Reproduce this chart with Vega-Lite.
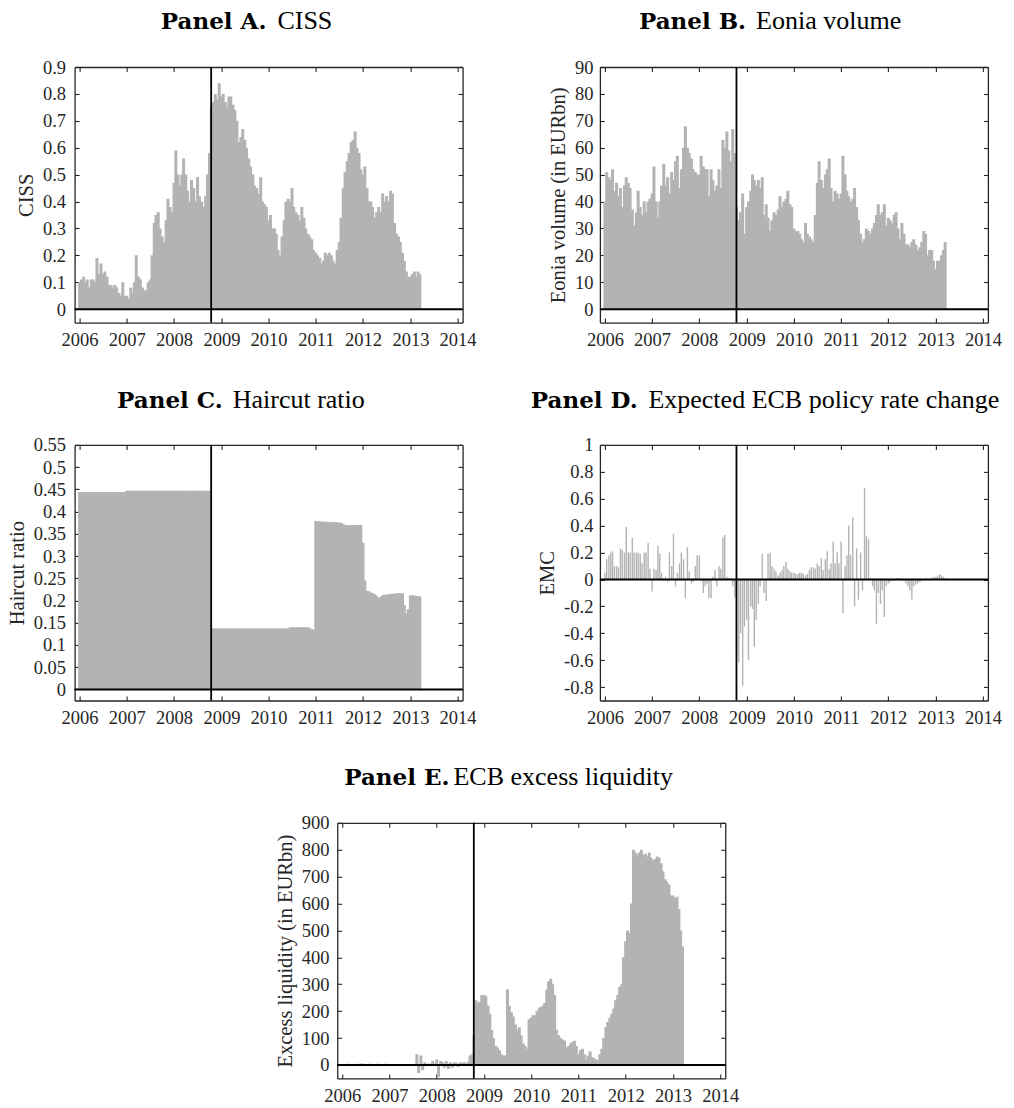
{
"$schema": "https://vega.github.io/schema/vega-lite/v6.json",
"background": "white",
"padding": {"left": 6.5, "top": 7, "right": 5, "bottom": 5},
"config": {
 "view": {"stroke": null},
 "axis": {"labelFont": "Liberation Serif", "labelFontSize": 18.5, "labelColor": "#262626", "titleFont": "Liberation Serif", "titleFontSize": 20.5, "titleFontWeight": "normal", "titleColor": "#262626", "domainColor": "#262626", "domainWidth": 1.3, "tickColor": "#262626", "tickWidth": 1.1, "tickSize": -4.5, "grid": false, "labelFlush": false, "labelOverlap": false, "labelBound": false, "titlePadding": 6}
},
"datasets": {"s": [
{"d":"2006-01-01","ci":0.10,"eo":40,"hc":0.444,"em":0.05,"el":3},
{"d":"2006-01-15","ci":0.11,"eo":51,"hc":0.444,"em":0.15,"el":2},
{"d":"2006-02-01","ci":0.12,"eo":49,"hc":0.444,"em":0.18,"el":3},
{"d":"2006-02-15","ci":0.10,"eo":48,"hc":0.444,"em":0.20,"el":4},
{"d":"2006-03-01","ci":0.11,"eo":52,"hc":0.444,"em":0.21,"el":3},
{"d":"2006-03-15","ci":0.08,"eo":44,"hc":0.444,"em":0.10,"el":2},
{"d":"2006-04-01","ci":0.11,"eo":47,"hc":0.444,"em":0.10,"el":3},
{"d":"2006-04-15","ci":0.11,"eo":42,"hc":0.444,"em":0.09,"el":2},
{"d":"2006-05-01","ci":0.10,"eo":45,"hc":0.444,"em":0.23,"el":4},
{"d":"2006-05-15","ci":0.19,"eo":38,"hc":0.444,"em":0.22,"el":3},
{"d":"2006-06-01","ci":0.13,"eo":46,"hc":0.444,"em":0.20,"el":5},
{"d":"2006-06-15","ci":0.17,"eo":49,"hc":0.444,"em":0.39,"el":4},
{"d":"2006-07-01","ci":0.13,"eo":47,"hc":0.444,"em":0.20,"el":3},
{"d":"2006-07-15","ci":0.14,"eo":45,"hc":0.444,"em":0.20,"el":2},
{"d":"2006-08-01","ci":0.12,"eo":37,"hc":0.444,"em":0.31,"el":4},
{"d":"2006-08-15","ci":0.09,"eo":31,"hc":0.444,"em":0.20,"el":3},
{"d":"2006-09-01","ci":0.09,"eo":36,"hc":0.444,"em":0.20,"el":2},
{"d":"2006-09-15","ci":0.08,"eo":44,"hc":0.444,"em":0.20,"el":3},
{"d":"2006-10-01","ci":0.09,"eo":38,"hc":0.444,"em":0.19,"el":4},
{"d":"2006-10-15","ci":0.08,"eo":35,"hc":0.444,"em":0.12,"el":3},
{"d":"2006-11-01","ci":0.06,"eo":40,"hc":0.444,"em":0.20,"el":2},
{"d":"2006-11-15","ci":0.05,"eo":36,"hc":0.444,"em":0.20,"el":3},
{"d":"2006-12-01","ci":0.10,"eo":40,"hc":0.444,"em":0.27,"el":4},
{"d":"2006-12-15","ci":0.05,"eo":41,"hc":0.444,"em":0.08,"el":3},
{"d":"2007-01-01","ci":0.05,"eo":43,"hc":0.447,"em":-0.09,"el":3},
{"d":"2007-01-15","ci":0.04,"eo":53,"hc":0.447,"em":0.08,"el":2},
{"d":"2007-02-01","ci":0.08,"eo":40,"hc":0.447,"em":0.07,"el":3},
{"d":"2007-02-15","ci":0.06,"eo":34,"hc":0.447,"em":0.25,"el":2},
{"d":"2007-03-01","ci":0.10,"eo":40,"hc":0.447,"em":0.19,"el":3},
{"d":"2007-03-15","ci":0.20,"eo":46,"hc":0.447,"em":0.05,"el":2},
{"d":"2007-04-01","ci":0.12,"eo":54,"hc":0.447,"em":-0.01,"el":3},
{"d":"2007-04-15","ci":0.11,"eo":46,"hc":0.447,"em":0.02,"el":2},
{"d":"2007-05-01","ci":0.08,"eo":49,"hc":0.447,"em":-0.02,"el":3},
{"d":"2007-05-15","ci":0.07,"eo":43,"hc":0.447,"em":0.20,"el":2},
{"d":"2007-06-01","ci":0.07,"eo":51,"hc":0.447,"em":0.10,"el":3},
{"d":"2007-06-15","ci":0.10,"eo":48,"hc":0.447,"em":0.34,"el":2},
{"d":"2007-07-01","ci":0.11,"eo":55,"hc":0.447,"em":-0.05,"el":3},
{"d":"2007-07-15","ci":0.20,"eo":57,"hc":0.447,"em":0.05,"el":4},
{"d":"2007-08-01","ci":0.32,"eo":45,"hc":0.447,"em":0.12,"el":40},
{"d":"2007-08-15","ci":0.35,"eo":52,"hc":0.447,"em":0.20,"el":-30},
{"d":"2007-09-01","ci":0.36,"eo":60,"hc":0.447,"em":0.15,"el":35},
{"d":"2007-09-15","ci":0.30,"eo":68,"hc":0.447,"em":-0.14,"el":-20},
{"d":"2007-10-01","ci":0.27,"eo":60,"hc":0.447,"em":0.24,"el":10},
{"d":"2007-10-15","ci":0.25,"eo":58,"hc":0.447,"em":0.06,"el":-5},
{"d":"2007-11-01","ci":0.33,"eo":56,"hc":0.447,"em":-0.03,"el":5},
{"d":"2007-11-15","ci":0.41,"eo":52,"hc":0.447,"em":-0.02,"el":3},
{"d":"2007-12-01","ci":0.38,"eo":51,"hc":0.447,"em":0.10,"el":15},
{"d":"2007-12-15","ci":0.36,"eo":50,"hc":0.447,"em":0.18,"el":5},
{"d":"2008-01-01","ci":0.47,"eo":50,"hc":0.447,"em":0.18,"el":20},
{"d":"2008-01-15","ci":0.59,"eo":57,"hc":0.447,"em":-0.01,"el":-45},
{"d":"2008-02-01","ci":0.50,"eo":53,"hc":0.447,"em":-0.10,"el":15},
{"d":"2008-02-15","ci":0.46,"eo":52,"hc":0.447,"em":-0.05,"el":10},
{"d":"2008-03-01","ci":0.50,"eo":52,"hc":0.447,"em":-0.03,"el":-10},
{"d":"2008-03-15","ci":0.56,"eo":42,"hc":0.447,"em":-0.14,"el":15},
{"d":"2008-04-01","ci":0.50,"eo":52,"hc":0.447,"em":-0.14,"el":-15},
{"d":"2008-04-15","ci":0.44,"eo":48,"hc":0.447,"em":0.02,"el":10},
{"d":"2008-05-01","ci":0.40,"eo":44,"hc":0.447,"em":0.07,"el":-10},
{"d":"2008-05-15","ci":0.48,"eo":46,"hc":0.447,"em":-0.05,"el":10},
{"d":"2008-06-01","ci":0.45,"eo":52,"hc":0.447,"em":0.10,"el":8},
{"d":"2008-06-15","ci":0.40,"eo":45,"hc":0.447,"em":0.08,"el":-8},
{"d":"2008-07-01","ci":0.49,"eo":63,"hc":0.447,"em":0.31,"el":10},
{"d":"2008-07-15","ci":0.42,"eo":60,"hc":0.447,"em":0.33,"el":8},
{"d":"2008-08-01","ci":0.40,"eo":66,"hc":0.447,"em":0.02,"el":10},
{"d":"2008-08-15","ci":0.38,"eo":59,"hc":0.447,"em":0.01,"el":5},
{"d":"2008-09-01","ci":0.42,"eo":55,"hc":0.447,"em":0.01,"el":12},
{"d":"2008-09-15","ci":0.50,"eo":67,"hc":0.447,"em":-0.05,"el":35},
{"d":"2008-10-01","ci":0.58,"eo":58,"hc":0.447,"em":-0.13,"el":40},
{"d":"2008-10-15","ci":0.75,"eo":38,"hc":0.137,"em":-0.55,"el":110},
{"d":"2008-11-01","ci":0.77,"eo":33,"hc":0.137,"em":-0.62,"el":240},
{"d":"2008-11-15","ci":0.80,"eo":36,"hc":0.137,"em":-0.40,"el":230},
{"d":"2008-12-01","ci":0.78,"eo":43,"hc":0.137,"em":-0.79,"el":235},
{"d":"2008-12-15","ci":0.84,"eo":28,"hc":0.137,"em":-0.35,"el":260},
{"d":"2009-01-01","ci":0.79,"eo":38,"hc":0.137,"em":-0.30,"el":260},
{"d":"2009-01-15","ci":0.80,"eo":40,"hc":0.137,"em":-0.60,"el":255},
{"d":"2009-02-01","ci":0.77,"eo":44,"hc":0.137,"em":-0.20,"el":220},
{"d":"2009-02-15","ci":0.75,"eo":50,"hc":0.137,"em":-0.22,"el":190},
{"d":"2009-03-01","ci":0.79,"eo":48,"hc":0.137,"em":-0.50,"el":130},
{"d":"2009-03-15","ci":0.79,"eo":46,"hc":0.137,"em":-0.30,"el":100},
{"d":"2009-04-01","ci":0.76,"eo":48,"hc":0.137,"em":-0.18,"el":70},
{"d":"2009-04-15","ci":0.74,"eo":45,"hc":0.137,"em":-0.05,"el":65},
{"d":"2009-05-01","ci":0.70,"eo":49,"hc":0.137,"em":0.19,"el":55},
{"d":"2009-05-15","ci":0.62,"eo":35,"hc":0.137,"em":-0.10,"el":40},
{"d":"2009-06-01","ci":0.64,"eo":39,"hc":0.137,"em":-0.16,"el":35},
{"d":"2009-06-15","ci":0.67,"eo":34,"hc":0.137,"em":0.19,"el":35},
{"d":"2009-07-01","ci":0.63,"eo":29,"hc":0.137,"em":0.20,"el":280},
{"d":"2009-07-15","ci":0.60,"eo":33,"hc":0.137,"em":0.10,"el":220},
{"d":"2009-08-01","ci":0.56,"eo":36,"hc":0.137,"em":0.08,"el":195},
{"d":"2009-08-15","ci":0.53,"eo":35,"hc":0.137,"em":0.06,"el":180},
{"d":"2009-09-01","ci":0.50,"eo":37,"hc":0.137,"em":0.03,"el":150},
{"d":"2009-09-15","ci":0.46,"eo":42,"hc":0.137,"em":0.05,"el":130},
{"d":"2009-10-01","ci":0.45,"eo":38,"hc":0.137,"em":0.07,"el":140},
{"d":"2009-10-15","ci":0.43,"eo":40,"hc":0.137,"em":0.10,"el":110},
{"d":"2009-11-01","ci":0.49,"eo":41,"hc":0.137,"em":0.13,"el":80},
{"d":"2009-11-15","ci":0.40,"eo":44,"hc":0.137,"em":0.08,"el":70},
{"d":"2009-12-01","ci":0.39,"eo":39,"hc":0.137,"em":0.06,"el":60},
{"d":"2009-12-15","ci":0.38,"eo":38,"hc":0.137,"em":0.05,"el":170},
{"d":"2010-01-01","ci":0.33,"eo":30,"hc":0.137,"em":0.05,"el":175},
{"d":"2010-01-15","ci":0.35,"eo":29,"hc":0.137,"em":0.04,"el":185},
{"d":"2010-02-01","ci":0.30,"eo":29,"hc":0.137,"em":0.04,"el":185},
{"d":"2010-02-15","ci":0.30,"eo":28,"hc":0.137,"em":0.05,"el":200},
{"d":"2010-03-01","ci":0.28,"eo":26,"hc":0.137,"em":0.05,"el":210},
{"d":"2010-03-15","ci":0.22,"eo":25,"hc":0.137,"em":0.04,"el":215},
{"d":"2010-04-01","ci":0.20,"eo":32,"hc":0.137,"em":0.03,"el":220},
{"d":"2010-04-15","ci":0.27,"eo":28,"hc":0.137,"em":0.04,"el":230},
{"d":"2010-05-01","ci":0.33,"eo":27,"hc":0.137,"em":0.07,"el":280},
{"d":"2010-05-15","ci":0.40,"eo":26,"hc":0.137,"em":0.09,"el":310},
{"d":"2010-06-01","ci":0.41,"eo":25,"hc":0.137,"em":0.09,"el":320},
{"d":"2010-06-15","ci":0.40,"eo":35,"hc":0.140,"em":0.08,"el":300},
{"d":"2010-07-01","ci":0.45,"eo":47,"hc":0.140,"em":0.12,"el":260},
{"d":"2010-07-15","ci":0.38,"eo":55,"hc":0.140,"em":0.10,"el":130},
{"d":"2010-08-01","ci":0.36,"eo":48,"hc":0.140,"em":0.16,"el":110},
{"d":"2010-08-15","ci":0.35,"eo":45,"hc":0.140,"em":0.07,"el":100},
{"d":"2010-09-01","ci":0.33,"eo":50,"hc":0.140,"em":0.15,"el":95},
{"d":"2010-09-15","ci":0.38,"eo":52,"hc":0.140,"em":0.21,"el":90},
{"d":"2010-10-01","ci":0.34,"eo":56,"hc":0.140,"em":0.08,"el":65},
{"d":"2010-10-15","ci":0.30,"eo":45,"hc":0.140,"em":0.12,"el":70},
{"d":"2010-11-01","ci":0.28,"eo":40,"hc":0.140,"em":0.28,"el":80},
{"d":"2010-11-15","ci":0.27,"eo":44,"hc":0.138,"em":0.12,"el":85},
{"d":"2010-12-01","ci":0.26,"eo":43,"hc":0.135,"em":0.20,"el":90},
{"d":"2010-12-15","ci":0.22,"eo":41,"hc":0.135,"em":0.12,"el":70},
{"d":"2011-01-01","ci":0.21,"eo":43,"hc":0.379,"em":0.28,"el":40},
{"d":"2011-01-15","ci":0.20,"eo":57,"hc":0.378,"em":-0.25,"el":55},
{"d":"2011-02-01","ci":0.19,"eo":50,"hc":0.378,"em":0.10,"el":60},
{"d":"2011-02-15","ci":0.17,"eo":44,"hc":0.377,"em":0.18,"el":40},
{"d":"2011-03-01","ci":0.18,"eo":42,"hc":0.377,"em":0.40,"el":20},
{"d":"2011-03-15","ci":0.21,"eo":40,"hc":0.377,"em":0.18,"el":35},
{"d":"2011-04-01","ci":0.20,"eo":41,"hc":0.377,"em":0.46,"el":50},
{"d":"2011-04-15","ci":0.21,"eo":45,"hc":0.376,"em":-0.20,"el":30},
{"d":"2011-05-01","ci":0.20,"eo":38,"hc":0.376,"em":0.23,"el":25},
{"d":"2011-05-15","ci":0.18,"eo":33,"hc":0.376,"em":-0.15,"el":20},
{"d":"2011-06-01","ci":0.17,"eo":28,"hc":0.376,"em":0.20,"el":18},
{"d":"2011-06-15","ci":0.22,"eo":25,"hc":0.376,"em":-0.08,"el":40},
{"d":"2011-07-01","ci":0.25,"eo":26,"hc":0.375,"em":0.68,"el":60},
{"d":"2011-07-15","ci":0.34,"eo":30,"hc":0.375,"em":0.32,"el":100},
{"d":"2011-08-01","ci":0.45,"eo":29,"hc":0.372,"em":0.30,"el":140},
{"d":"2011-08-15","ci":0.51,"eo":28,"hc":0.369,"em":0.01,"el":160},
{"d":"2011-09-01","ci":0.55,"eo":30,"hc":0.369,"em":-0.05,"el":175},
{"d":"2011-09-15","ci":0.58,"eo":32,"hc":0.369,"em":-0.08,"el":190},
{"d":"2011-10-01","ci":0.62,"eo":35,"hc":0.369,"em":-0.33,"el":210},
{"d":"2011-10-15","ci":0.63,"eo":39,"hc":0.369,"em":-0.10,"el":240},
{"d":"2011-11-01","ci":0.66,"eo":35,"hc":0.370,"em":-0.18,"el":260},
{"d":"2011-11-15","ci":0.60,"eo":36,"hc":0.370,"em":-0.08,"el":290},
{"d":"2011-12-01","ci":0.58,"eo":39,"hc":0.370,"em":-0.28,"el":300},
{"d":"2011-12-15","ci":0.52,"eo":31,"hc":0.370,"em":-0.05,"el":400},
{"d":"2012-01-01","ci":0.50,"eo":34,"hc":0.330,"em":-0.03,"el":460},
{"d":"2012-01-15","ci":0.53,"eo":33,"hc":0.245,"em":-0.02,"el":500},
{"d":"2012-02-01","ci":0.45,"eo":32,"hc":0.222,"em":-0.01,"el":490},
{"d":"2012-02-15","ci":0.40,"eo":35,"hc":0.221,"em":-0.01,"el":600},
{"d":"2012-03-01","ci":0.40,"eo":36,"hc":0.218,"em":0.00,"el":800},
{"d":"2012-03-15","ci":0.38,"eo":30,"hc":0.217,"em":0.01,"el":790},
{"d":"2012-04-01","ci":0.34,"eo":26,"hc":0.214,"em":0.01,"el":780},
{"d":"2012-04-15","ci":0.36,"eo":32,"hc":0.210,"em":-0.01,"el":790},
{"d":"2012-05-01","ci":0.38,"eo":28,"hc":0.205,"em":-0.01,"el":800},
{"d":"2012-05-15","ci":0.36,"eo":24,"hc":0.208,"em":-0.03,"el":780},
{"d":"2012-06-01","ci":0.43,"eo":24,"hc":0.212,"em":-0.05,"el":785},
{"d":"2012-06-15","ci":0.40,"eo":23,"hc":0.213,"em":-0.08,"el":775},
{"d":"2012-07-01","ci":0.42,"eo":25,"hc":0.213,"em":-0.15,"el":790},
{"d":"2012-07-15","ci":0.40,"eo":26,"hc":0.214,"em":-0.05,"el":770},
{"d":"2012-08-01","ci":0.44,"eo":24,"hc":0.214,"em":-0.04,"el":760},
{"d":"2012-08-15","ci":0.43,"eo":22,"hc":0.215,"em":-0.03,"el":765},
{"d":"2012-09-01","ci":0.32,"eo":23,"hc":0.215,"em":-0.02,"el":775},
{"d":"2012-09-15","ci":0.28,"eo":25,"hc":0.216,"em":-0.01,"el":770},
{"d":"2012-10-01","ci":0.27,"eo":29,"hc":0.216,"em":0.00,"el":750},
{"d":"2012-10-15","ci":0.25,"eo":28,"hc":0.216,"em":-0.01,"el":720},
{"d":"2012-11-01","ci":0.21,"eo":20,"hc":0.216,"em":0.00,"el":690},
{"d":"2012-11-15","ci":0.18,"eo":22,"hc":0.190,"em":-0.01,"el":680},
{"d":"2012-12-01","ci":0.14,"eo":22,"hc":0.170,"em":0.01,"el":670},
{"d":"2012-12-15","ci":0.12,"eo":18,"hc":0.180,"em":0.02,"el":630},
{"d":"2013-01-01","ci":0.12,"eo":15,"hc":0.211,"em":0.02,"el":630},
{"d":"2013-01-15","ci":0.13,"eo":18,"hc":0.212,"em":0.03,"el":620},
{"d":"2013-02-01","ci":0.14,"eo":18,"hc":0.211,"em":0.04,"el":625},
{"d":"2013-02-15","ci":0.12,"eo":20,"hc":0.210,"em":0.03,"el":580},
{"d":"2013-03-01","ci":0.14,"eo":22,"hc":0.210,"em":0.02,"el":500},
{"d":"2013-03-15","ci":0.13,"eo":25,"hc":0.209,"em":0.01,"el":440}
]},
"vconcat": [
 {"hconcat": [
  {"width": 388, "height": 255.6,
   "layer": [
    {"data": {"name": "s"}, "mark": {"type": "bar", "width": 3, "color": "#b3b3b3", "clip": true},
     "encoding": {
      "x": {"field": "d", "type": "temporal", "scale": {"domain": [{"year": 2006, "month": 1, "date": 1}, {"year": 2014, "month": 1, "date": 1}]}, "axis": {"orient": "bottom", "format": "%Y", "tickCount": {"interval": "year", "step": 1}, "title": null, "labelPadding": 12.5}},
      "y": {"field": "ci", "type": "quantitative", "scale": {"domain": [-0.05, 0.9], "nice": false}, "axis": {"orient": "left", "values": [0,0.1,0.2,0.3,0.4,0.5,0.6,0.7,0.8,0.9], "format": ".2~f", "title": "CISS", "labelPadding": 13.5}}
     }},
    {"data": {"values": [{}]}, "mark": {"type": "rule", "color": "#000", "strokeWidth": 2},
     "encoding": {"y": {"datum": 0, "type": "quantitative", "axis": {"orient": "right", "values": [0,0.1,0.2,0.3,0.4,0.5,0.6,0.7,0.8,0.9], "labels": false, "title": "Panel A.", "titleFont": "DejaVu Serif", "titleFontWeight": "bold", "titleFontSize": 23, "titleColor": "#000", "titleAngle": 0, "titleAlign": "right", "titleBaseline": "alphabetic", "titleX": -196.7, "titleY": -38.4}}}},
    {"data": {"values": [{}]}, "mark": {"type": "rule", "color": "#000", "strokeWidth": 1.8},
     "encoding": {"x": {"datum": {"year": 2008, "month": 10, "date": 14}, "type": "temporal", "axis": {"orient": "top", "tickCount": {"interval": "year", "step": 1}, "labels": false, "title": "CISS", "titleFont": "Liberation Serif", "titleFontSize": 26, "titleColor": "#000", "titleAngle": 0, "titleAlign": "left", "titleBaseline": "alphabetic", "titleX": 202.3, "titleY": -38.4}}}}
   ],
   "resolve": {"axis": {"x": "independent", "y": "independent"}}
  },
  {"width": 388, "height": 255.6,
   "layer": [
    {"data": {"name": "s"}, "mark": {"type": "bar", "width": 3, "color": "#b3b3b3", "clip": true},
     "encoding": {
      "x": {"field": "d", "type": "temporal", "scale": {"domain": [{"year": 2006, "month": 1, "date": 1}, {"year": 2014, "month": 1, "date": 1}]}, "axis": {"orient": "bottom", "format": "%Y", "tickCount": {"interval": "year", "step": 1}, "title": null, "labelPadding": 12.5}},
      "y": {"field": "eo", "type": "quantitative", "scale": {"domain": [-5, 90], "nice": false}, "axis": {"orient": "left", "values": [0,10,20,30,40,50,60,70,80,90], "format": ".2~f", "title": "Eonia volume (in EURbn)", "labelPadding": 11.5}}
     }},
    {"data": {"values": [{}]}, "mark": {"type": "rule", "color": "#000", "strokeWidth": 2},
     "encoding": {"y": {"datum": 0, "type": "quantitative", "axis": {"orient": "right", "values": [0,10,20,30,40,50,60,70,80,90], "labels": false, "title": "Panel B.", "titleFont": "DejaVu Serif", "titleFontWeight": "bold", "titleFontSize": 23, "titleColor": "#000", "titleAngle": 0, "titleAlign": "right", "titleBaseline": "alphabetic", "titleX": -242.3, "titleY": -38.4}}}},
    {"data": {"values": [{}]}, "mark": {"type": "rule", "color": "#000", "strokeWidth": 1.8},
     "encoding": {"x": {"datum": {"year": 2008, "month": 10, "date": 14}, "type": "temporal", "axis": {"orient": "top", "tickCount": {"interval": "year", "step": 1}, "labels": false, "title": "Eonia volume", "titleFont": "Liberation Serif", "titleFontSize": 26, "titleColor": "#000", "titleAngle": 0, "titleAlign": "left", "titleBaseline": "alphabetic", "titleX": 155.7, "titleY": -38.4}}}}
   ],
   "resolve": {"axis": {"x": "independent", "y": "independent"}}
  }
 ], "spacing": 137.3, "bounds": "flush"},
 {"hconcat": [
  {"width": 388, "height": 255.6,
   "layer": [
    {"data": {"name": "s"}, "mark": {"type": "bar", "width": 3, "color": "#b3b3b3", "clip": true},
     "encoding": {
      "x": {"field": "d", "type": "temporal", "scale": {"domain": [{"year": 2006, "month": 1, "date": 1}, {"year": 2014, "month": 1, "date": 1}]}, "axis": {"orient": "bottom", "format": "%Y", "tickCount": {"interval": "year", "step": 1}, "title": null, "labelPadding": 12.5}},
      "y": {"field": "hc", "type": "quantitative", "scale": {"domain": [-0.025, 0.55], "nice": false}, "axis": {"orient": "left", "values": [0,0.05,0.1,0.15,0.2,0.25,0.3,0.35,0.4,0.45,0.5,0.55], "format": ".2~f", "title": "Haircut ratio", "labelPadding": 13.5}}
     }},
    {"data": {"values": [{}]}, "mark": {"type": "rule", "color": "#000", "strokeWidth": 2},
     "encoding": {"y": {"datum": 0, "type": "quantitative", "axis": {"orient": "right", "values": [0,0.05,0.1,0.15,0.2,0.25,0.3,0.35,0.4,0.45,0.5,0.55], "labels": false, "title": "Panel C.", "titleFont": "DejaVu Serif", "titleFontWeight": "bold", "titleFontSize": 23, "titleColor": "#000", "titleAngle": 0, "titleAlign": "right", "titleBaseline": "alphabetic", "titleX": -240.4, "titleY": -37.6}}}},
    {"data": {"values": [{}]}, "mark": {"type": "rule", "color": "#000", "strokeWidth": 1.8},
     "encoding": {"x": {"datum": {"year": 2008, "month": 10, "date": 14}, "type": "temporal", "axis": {"orient": "top", "tickCount": {"interval": "year", "step": 1}, "labels": false, "title": "Haircut ratio", "titleFont": "Liberation Serif", "titleFontSize": 26, "titleColor": "#000", "titleAngle": 0, "titleAlign": "left", "titleBaseline": "alphabetic", "titleX": 157.6, "titleY": -37.6}}}}
   ],
   "resolve": {"axis": {"x": "independent", "y": "independent"}}
  },
  {"width": 388, "height": 255.6,
   "layer": [
    {"data": {"name": "s"}, "mark": {"type": "bar", "width": 1.4, "color": "#b3b3b3", "clip": true},
     "encoding": {
      "x": {"field": "d", "type": "temporal", "scale": {"domain": [{"year": 2006, "month": 1, "date": 1}, {"year": 2014, "month": 1, "date": 1}]}, "axis": {"orient": "bottom", "format": "%Y", "tickCount": {"interval": "year", "step": 1}, "title": null, "labelPadding": 12.5}},
      "y": {"field": "em", "type": "quantitative", "scale": {"domain": [-0.9, 1], "nice": false}, "axis": {"orient": "left", "values": [-0.8,-0.6,-0.4,-0.2,0,0.2,0.4,0.6,0.8,1], "format": ".2~f", "labelExpr": "replace(datum.label, '\u2212', '-')", "title": "EMC", "labelPadding": 11.5}}
     }},
    {"data": {"values": [{}]}, "mark": {"type": "rule", "color": "#000", "strokeWidth": 2},
     "encoding": {"y": {"datum": 0, "type": "quantitative", "axis": {"orient": "right", "values": [-0.8,-0.6,-0.4,-0.2,0,0.2,0.4,0.6,0.8,1], "labels": false, "title": "Panel D.", "titleFont": "DejaVu Serif", "titleFontWeight": "bold", "titleFontSize": 23, "titleColor": "#000", "titleAngle": 0, "titleAlign": "right", "titleBaseline": "alphabetic", "titleX": -350.7, "titleY": -37.6}}}},
    {"data": {"values": [{}]}, "mark": {"type": "rule", "color": "#000", "strokeWidth": 1.8},
     "encoding": {"x": {"datum": {"year": 2008, "month": 10, "date": 14}, "type": "temporal", "axis": {"orient": "top", "tickCount": {"interval": "year", "step": 1}, "labels": false, "title": "Expected ECB policy rate change", "titleFont": "Liberation Serif", "titleFontSize": 26, "titleColor": "#000", "titleAngle": 0, "titleAlign": "left", "titleBaseline": "alphabetic", "titleX": 48, "titleY": -37.6}}}}
   ],
   "resolve": {"axis": {"x": "independent", "y": "independent"}}
  }
 ], "spacing": 137.3, "bounds": "flush"},
 {"width": 388, "height": 255.6,
  "layer": [
   {"data": {"name": "s"}, "mark": {"type": "bar", "width": 3, "color": "#b3b3b3", "clip": true},
    "encoding": {
     "x": {"field": "d", "type": "temporal", "scale": {"domain": [{"year": 2006, "month": 1, "date": 1}, {"year": 2014, "month": 1, "date": 1}]}, "axis": {"orient": "bottom", "format": "%Y", "tickCount": {"interval": "year", "step": 1}, "title": null, "labelPadding": 12.5}},
     "y": {"field": "el", "type": "quantitative", "scale": {"domain": [-50, 900], "nice": false}, "axis": {"orient": "left", "values": [0,100,200,300,400,500,600,700,800,900], "format": ".2~f", "title": "Excess liquidity (in EURbn)", "labelPadding": 12.8}}
    }},
   {"data": {"values": [{}]}, "mark": {"type": "rule", "color": "#000", "strokeWidth": 2},
    "encoding": {"y": {"datum": 0, "type": "quantitative", "axis": {"orient": "right", "values": [0,100,200,300,400,500,600,700,800,900], "labels": false, "title": "Panel E.", "titleFont": "DejaVu Serif", "titleFontWeight": "bold", "titleFontSize": 23, "titleColor": "#000", "titleAngle": 0, "titleAlign": "right", "titleBaseline": "alphabetic", "titleX": -276.3, "titleY": -38}}}},
   {"data": {"values": [{}]}, "mark": {"type": "rule", "color": "#000", "strokeWidth": 1.8},
    "encoding": {"x": {"datum": {"year": 2008, "month": 10, "date": 14}, "type": "temporal", "axis": {"orient": "top", "tickCount": {"interval": "year", "step": 1}, "labels": false, "title": "ECB excess liquidity", "titleFont": "Liberation Serif", "titleFontSize": 26, "titleColor": "#000", "titleAngle": 0, "titleAlign": "left", "titleBaseline": "alphabetic", "titleX": 115.7, "titleY": -38}}}}
  ],
  "resolve": {"axis": {"x": "independent", "y": "independent"}}
 }
],
"spacing": 35.9,
"center": true
}
